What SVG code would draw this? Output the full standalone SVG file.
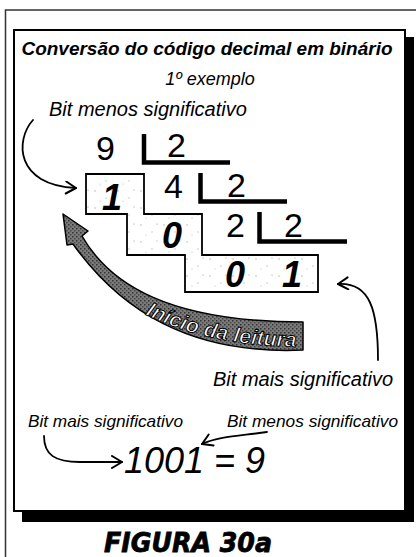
<svg xmlns="http://www.w3.org/2000/svg" width="416" height="557" viewBox="0 0 416 557">
<style>
text{font-family:"Liberation Sans",Arial,sans-serif;fill:#000}
.it{font-style:italic}
.bi{font-style:italic;font-weight:bold}
.num{font-size:34px}
.bx{font-size:36px;font-style:italic;font-weight:bold;text-anchor:middle}
.thin{fill:none;stroke:#000;stroke-width:1.8;stroke-linecap:round}
.bar{fill:none;stroke:#000;stroke-width:4.5}
</style>
<defs>
<marker id="ah" markerUnits="userSpaceOnUse" markerWidth="16" markerHeight="16" refX="12" refY="7" orient="auto">
<path d="M2,1 L12,7 L2,13" fill="none" stroke="#000" stroke-width="2" stroke-linecap="round" stroke-linejoin="round"/>
</marker>
<pattern id="speck" width="23" height="17" patternUnits="userSpaceOnUse">
<rect width="23" height="17" fill="#fff"/>
<circle cx="3" cy="4" r="0.7" fill="#aaa"/>
<circle cx="14" cy="11" r="0.7" fill="#bbb"/>
<circle cx="19" cy="3" r="0.6" fill="#999"/>
<circle cx="8" cy="14" r="0.6" fill="#bbb"/>
</pattern>
<pattern id="tex" width="4" height="4" patternUnits="userSpaceOnUse">
<rect width="4" height="4" fill="#7a7a7a"/>
<rect x="0" y="0" width="1.5" height="1.5" fill="#333"/>
<rect x="2" y="2" width="1.5" height="1.5" fill="#4a4a4a"/>
</pattern>
<path id="tp" d="M 138,311 C 180,333 230,346 302,347"/>
</defs>

<g id="frame">
<path d="M5.5,557 V10 H416" fill="none" stroke="#333" stroke-width="1.5"/>
<rect x="22" y="37" width="392" height="485" fill="#000"/>
<rect x="14" y="30" width="391" height="481" fill="#fff" stroke="#000" stroke-width="2"/>
</g>

<g id="title">
<text x="207" y="55" class="bi" font-size="19" text-anchor="middle" textLength="371" lengthAdjust="spacingAndGlyphs">Conversão do código decimal em binário</text>
<text x="210" y="85" class="it" font-size="18" text-anchor="middle">1º exemplo</text>
</g>

<g id="label-lsb-top"><text x="49" y="116" class="it" font-size="20">Bit menos significativo</text></g>

<g id="division">
<text x="96" y="160" class="num">9</text>
<text x="167" y="157" class="num">2</text>
<text x="164" y="198" class="num">4</text>
<text x="227" y="197" class="num">2</text>
<text x="226" y="237" class="num">2</text>
<text x="284" y="237" class="num">2</text>
<path class="bar" d="M144,134 V162.5 H230"/>
<path class="bar" d="M200.5,173 V201.5 H287"/>
<path class="bar" d="M259.5,212 V241.5 H347"/>
</g>

<g id="stairs">
<polygon points="86,174 144,174 144,214 202,214 202,255 318,255 318,292 185,292 185,255 127,255 127,214 86,214" fill="url(#speck)" stroke="#000" stroke-width="1.8"/>
<text x="112" y="210" class="bx">1</text>
<text x="172" y="248" class="bx">0</text>
<text x="235" y="287" class="bx">0</text>
<text x="292" y="287" class="bx">1</text>
</g>

<g id="reading-arrow">
<path d="M63,214 L88,231 L82,236 C110,285 170,322 303,322 L303,350 C190,355 120,310 73,244 L67,245 Z" fill="url(#tex)" stroke="#000" stroke-width="1.5" stroke-linejoin="round"/>
<text class="bi" font-size="21" stroke="#000" stroke-width="1" textLength="156" lengthAdjust="spacingAndGlyphs" style="fill:#fff"><textPath href="#tp" startOffset="8">Início da leitura</textPath></text>
</g>

<g id="label-msb-right"><text x="213" y="386" class="it" font-size="20">Bit mais significativo</text></g>
<g id="label-msb-bottom"><text x="28" y="427" class="it" font-size="17" textLength="155" lengthAdjust="spacingAndGlyphs">Bit mais significativo</text></g>
<g id="label-lsb-bottom"><text x="227" y="427" class="it" font-size="17" textLength="171" lengthAdjust="spacingAndGlyphs">Bit menos significativo</text></g>

<g id="result"><text x="124" y="473" class="it" font-size="36">1001 = 9</text></g>

<g id="connectors">
<path class="thin" d="M33,120 C15,140 15,185 76,188" marker-end="url(#ah)"/>
<path class="thin" d="M378,360 C378,310 370,282 338,284" marker-end="url(#ah)"/>
<path class="thin" d="M44,436 C44,455 55,462 80,462 L122,462" marker-end="url(#ah)"/>
<path class="thin" d="M267,432 C240,436 220,436 202,444" marker-end="url(#ah)"/>
</g>

<g id="caption">
<text x="104" y="552" style="font-family:'DejaVu Sans',sans-serif" font-size="27" font-weight="bold" font-style="italic" stroke="#000" stroke-width="0.8" textLength="168" lengthAdjust="spacingAndGlyphs">FIGURA 30a</text>
</g>
</svg>
